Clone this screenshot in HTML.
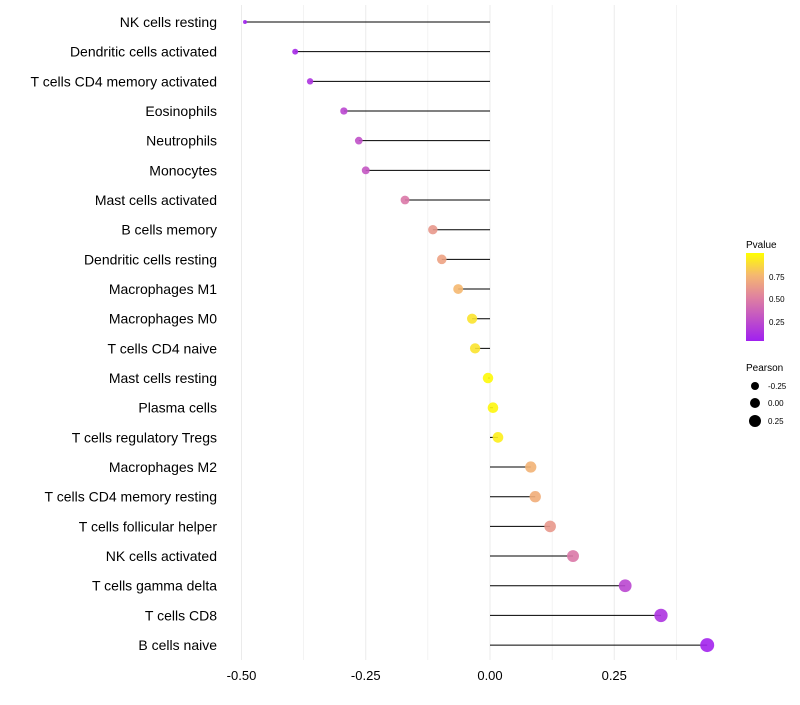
<!DOCTYPE html>
<html><head><meta charset="utf-8"><style>
body{margin:0;background:#fff;font-family:"Liberation Sans",sans-serif}
svg text{font-family:"Liberation Sans",sans-serif}
</style></head><body>
<svg id="chart" width="800" height="700">
<defs><linearGradient id="pg" x1="0" y1="1" x2="0" y2="0">
<stop offset="0" stop-color="#a020f0"/><stop offset="0.5" stop-color="#e0829f"/><stop offset="0.75" stop-color="#f5b870"/><stop offset="1" stop-color="#ffff00"/></linearGradient></defs>
<g id="grid"></g>
<g id="marks"></g>
<g id="ylabels"></g>
<g id="xlabels"></g>
<g>
<text x="746" y="248" font-size="10">Pvalue</text>
<rect x="746" y="253" width="18" height="88" fill="url(#pg)"/>
<text x="769" y="280" font-size="8">0.75</text>
<text x="769" y="302" font-size="8">0.50</text>
<text x="769" y="325" font-size="8">0.25</text>
</g>
<g>
<text x="746" y="371" font-size="10">Pearson</text>
<circle cx="755" cy="386" r="4" fill="#000"/><text x="768" y="389" font-size="8">-0.25</text>
<circle cx="755" cy="403" r="5" fill="#000"/><text x="768" y="406" font-size="8">0.00</text>
<circle cx="755" cy="421" r="6" fill="#000"/><text x="768" y="424" font-size="8">0.25</text>
</g>
</svg>
<script>
const categories=["NK cells resting","Dendritic cells activated","T cells CD4 memory activated","Eosinophils","Neutrophils","Monocytes","Mast cells activated","B cells memory","Dendritic cells resting","Macrophages M1","Macrophages M0","T cells CD4 naive","Mast cells resting","Plasma cells","T cells regulatory  Tregs ","Macrophages M2","T cells CD4 memory resting","T cells follicular helper","NK cells activated","T cells gamma delta","T cells CD8","B cells naive"];
const pearson=[-0.493,-0.392,-0.362,-0.294,-0.264,-0.25,-0.171,-0.115,-0.097,-0.064,-0.036,-0.030,-0.004,0.006,0.016,0.082,0.091,0.121,0.167,0.272,0.344,0.437];
const pvalue=[0.01,0.05,0.1,0.2,0.25,0.28,0.45,0.6,0.65,0.75,0.9,0.9,0.98,0.97,0.94,0.72,0.7,0.6,0.45,0.2,0.1,0.02];
const xTicks=[-0.5,-0.25,0,0.25];
const xTickLabels=["-0.50","-0.25","0.00","0.25"];
const NS="http://www.w3.org/2000/svg";
const x=v=>490+v*497;
const y=i=>22+i*29.67;
function mk(t,a,p){const e=document.createElementNS(NS,t);for(const k in a)e.setAttribute(k,a[k]);p.appendChild(e);return e;}
function lerp(a,b,t){return a.map((v,i)=>Math.round(v+(b[i]-v)*t));}
function col(p){const s=[[0,[160,32,240]],[0.5,[224,130,159]],[0.75,[245,184,112]],[1,[255,255,0]]];
for(let i=1;i<s.length;i++)if(p<=s[i][0]){const t=(p-s[i-1][0])/(s[i][0]-s[i-1][0]);return "rgb("+lerp(s[i-1][1],s[i][1],t).join(",")+")";}return "rgb(255,255,0)";}
const g=document.getElementById("grid"),m=document.getElementById("marks"),yl=document.getElementById("ylabels"),xl=document.getElementById("xlabels");
[-0.5,-0.375,-0.25,-0.125,0,0.125,0.25,0.375].forEach(v=>{const l=mk("line",{x1:x(v),x2:x(v),y1:5,y2:660,stroke:"#ebebeb","stroke-width":Number.isInteger(v*4)?1:0.6},g);

});
categories.forEach((c,i)=>{
const l=mk("line",{x1:x(0),x2:x(pearson[i]),y1:y(i),y2:y(i),stroke:"#000","stroke-width":1},m);


const r=Math.sqrt(Math.max(1,4+(pearson[i]+0.49)*48.5));
const d=mk("circle",{cx:x(pearson[i]),cy:y(i),r:r,fill:col(pvalue[i]),"fill-opacity":0.9},m);


const t=mk("text",{x:217,y:y(i)+5,"text-anchor":"end","font-size":14,fill:"#000"},yl);t.textContent=c;


});
xTicks.forEach((v,i)=>{const t=mk("text",{x:x(v),y:680,"text-anchor":"middle","font-size":13,fill:"#000"},xl);t.textContent=xTickLabels[i];

});
</script>
</body></html>
